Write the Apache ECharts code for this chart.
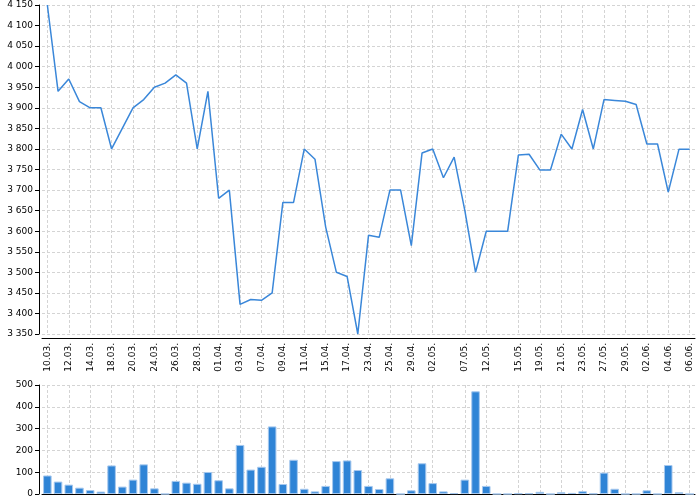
<!DOCTYPE html>
<html>
<head>
<meta charset="utf-8">
<script src="https://cdn.jsdelivr.net/npm/echarts@6/dist/echarts.min.js"></script>
<style>
  html, body { margin: 0; padding: 0; background: #fff; }
  #chart { width: 700px; height: 500px; }
</style>
</head>
<body>
<div id="chart"></div>
<script>
// trading days (category axis)
var DATES = [
  '10.03.', '11.03.', '12.03.', '13.03.', '14.03.', '17.03.', '18.03.', '19.03.', '20.03.', '21.03.',
  '24.03.', '25.03.', '26.03.', '27.03.', '28.03.', '31.03.', '01.04.', '02.04.', '03.04.', '04.04.',
  '07.04.', '08.04.', '09.04.', '10.04.', '11.04.', '14.04.', '15.04.', '16.04.', '17.04.', '22.04.',
  '23.04.', '24.04.', '25.04.', '28.04.', '29.04.', '30.04.', '02.05.', '05.05.', '06.05.', '07.05.',
  '08.05.', '12.05.', '13.05.', '14.05.', '15.05.', '16.05.', '19.05.', '20.05.', '21.05.', '22.05.',
  '23.05.', '26.05.', '27.05.', '28.05.', '29.05.', '30.05.', '02.06.', '03.06.', '04.06.', '05.06.',
  '06.06.'
];

// dates that get a label / tick / grid line
var TICK_DATES = [
  '10.03.', '12.03.', '14.03.', '18.03.', '20.03.', '24.03.', '26.03.', '28.03.', '01.04.', '03.04.',
  '07.04.', '09.04.', '11.04.', '15.04.', '17.04.', '23.04.', '25.04.', '29.04.', '02.05.', '07.05.',
  '12.05.', '15.05.', '19.05.', '21.05.', '23.05.', '27.05.', '29.05.', '02.06.', '04.06.', '06.06.'
];

var PRICE = [
  4150, 3940, 3970, 3915, 3900, 3900, 3800, 3850, 3900, 3920,
  3950, 3960, 3980, 3960, 3800, 3940, 3680, 3700, 3422, 3434,
  3432, 3450, 3670, 3670, 3800, 3775, 3610, 3500, 3490, 3350,
  3590, 3585, 3700, 3700, 3565, 3790, 3800, 3730, 3780, 3650,
  3500, 3600, 3600, 3600, 3785, 3787, 3749, 3749, 3836, 3800,
  3896, 3800, 3920, 3918, 3916, 3908, 3812, 3812, 3695, 3799,
  3799
];

var VOLUME = [
  85, 57, 43, 29, 18, 11, 131, 34, 66, 136,
  26, 0, 60, 52, 47, 101, 63, 26, 225, 112,
  125, 310, 46, 157, 24, 12, 37, 151, 154, 110,
  37, 23, 72, 0, 17, 141, 50, 12, 4, 66,
  471, 37, 0, 0, 3, 3, 10, 0, 8, 5,
  13, 2, 98, 24, 0, 0, 17, 0, 133, 8,
  0
];

var LINE_COLOR = '#3a87d9';
var BAR_COLOR = '#2f84d6';
var FONT = 'DejaVu Sans';

function showTick(index, value) {
  return TICK_DATES.indexOf(value) !== -1;
}

function spaced(v) {
  return String(v).replace(/\B(?=(\d{3})+(?!\d))/g, ' ');
}

var gridLine = {
  show: true,
  alignWithLabel: true,
  interval: showTick,
  lineStyle: { color: '#d4d4d4', type: [3, 2], width: 1 }
};

var chart = echarts.init(document.getElementById('chart'));

chart.setOption({
  animation: false,
  backgroundColor: '#fff',
  textStyle: { fontFamily: FONT },
  grid: [
    { left: 42, right: 5, top: 5, bottom: 166 },
    { left: 42, right: 5, top: 385, bottom: 6 }
  ],
  xAxis: [{
    type: 'category',
    gridIndex: 0,
    data: DATES,
    offset: 4,
    axisLine: { lineStyle: { color: '#000', width: 1 } },
    axisTick: { alignWithLabel: true, length: 3, interval: showTick, lineStyle: { color: '#000' } },
    axisLabel: {
      rotate: 90,
      interval: showTick,
      margin: 5,
      fontSize: 9,
      fontFamily: FONT,
      color: '#000'
    },
    splitLine: gridLine
  }, {
    type: 'category',
    gridIndex: 1,
    data: DATES,
    axisLine: { lineStyle: { color: '#000', width: 1 } },
    axisTick: { show: false },
    axisLabel: { show: false },
    splitLine: gridLine
  }],
  yAxis: [{
    type: 'value',
    gridIndex: 0,
    min: 3350,
    max: 4150,
    interval: 50,
    offset: 3,
    axisLine: { show: true, lineStyle: { color: '#000', width: 1 } },
    axisTick: { show: true, length: 4, lineStyle: { color: '#000' } },
    axisLabel: {
      margin: 6,
      fontSize: 9,
      fontFamily: FONT,
      color: '#000',
      formatter: spaced
    },
    splitLine: { show: true, lineStyle: { color: '#d4d4d4', type: [3, 2], width: 1 } }
  }, {
    type: 'value',
    gridIndex: 1,
    min: 0,
    max: 500,
    interval: 100,
    offset: 3,
    axisLine: { show: true, lineStyle: { color: '#000', width: 1 } },
    axisTick: { show: true, length: 4, lineStyle: { color: '#000' } },
    axisLabel: {
      margin: 6,
      fontSize: 9,
      fontFamily: FONT,
      color: '#000'
    },
    splitLine: { show: true, lineStyle: { color: '#d4d4d4', type: [3, 2], width: 1 } }
  }],
  series: [{
    type: 'line',
    xAxisIndex: 0,
    yAxisIndex: 0,
    data: PRICE,
    showSymbol: false,
    lineStyle: { color: LINE_COLOR, width: 1.5 },
    itemStyle: { color: LINE_COLOR }
  }, {
    type: 'bar',
    xAxisIndex: 1,
    yAxisIndex: 1,
    data: VOLUME,
    barWidth: '80%',
    itemStyle: { color: BAR_COLOR, borderColor: '#a6c8ee', borderWidth: 1 }
  }]
});
</script>
</body>
</html>
